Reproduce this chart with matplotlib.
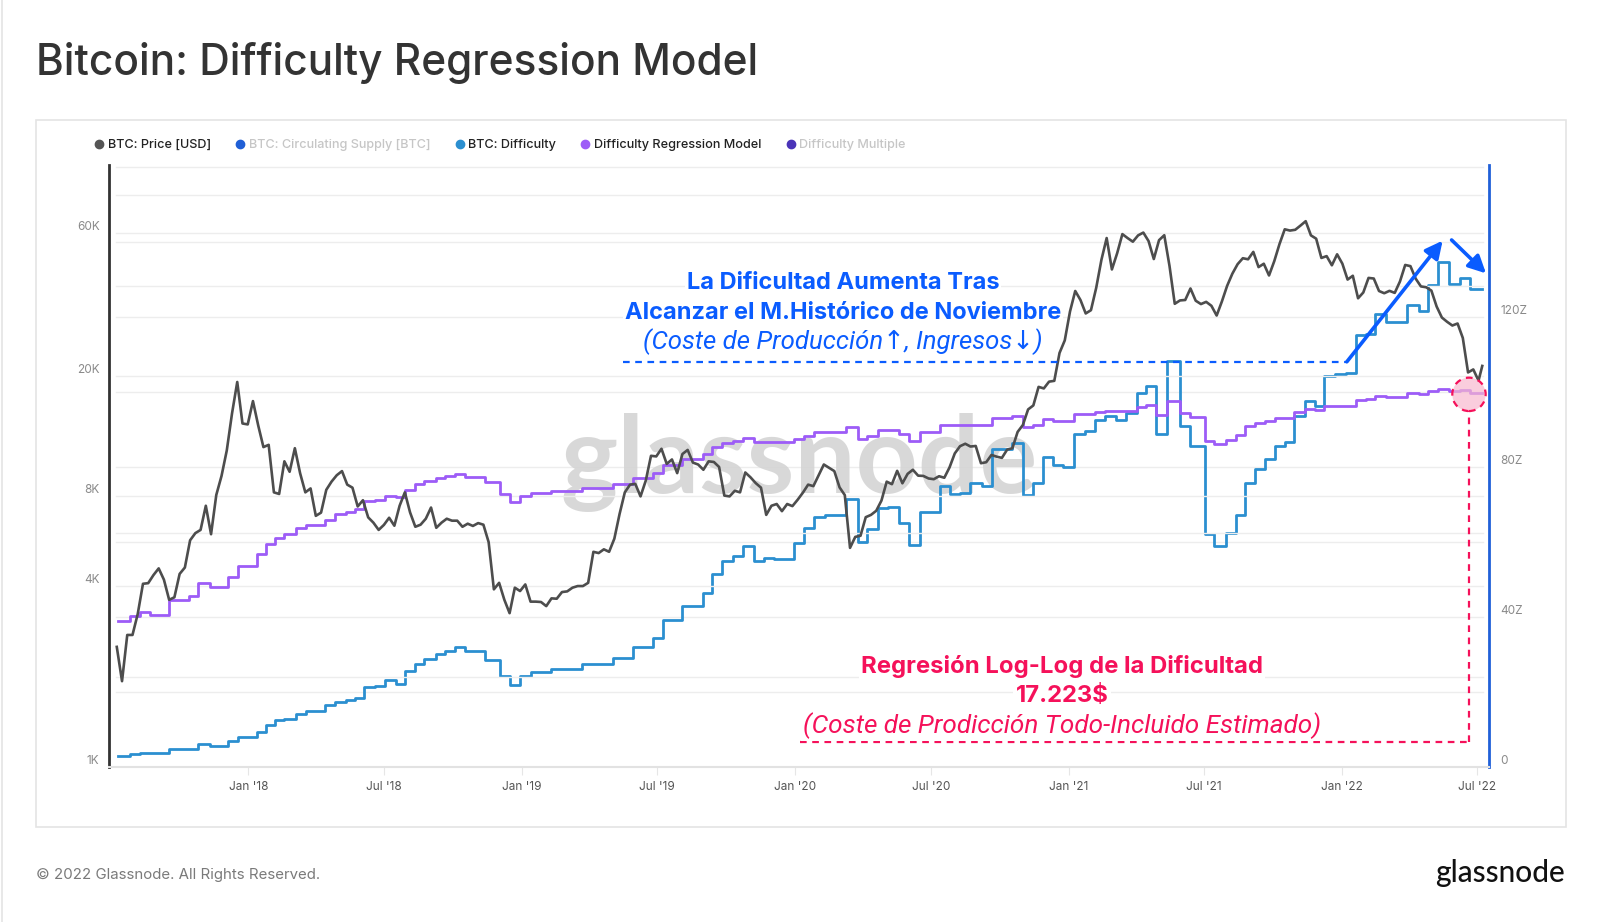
import matplotlib

matplotlib.use("Agg")
import matplotlib.pyplot as plt
import matplotlib.dates as mdates
import matplotlib.patches as mpatches
import matplotlib.ticker as mticker
from matplotlib.lines import Line2D
import pandas as pd

W, H = 1600, 922
plt.rcParams["font.family"] = ["Inter", "DejaVu Sans"]

# BTC price [USD], weekly closes (Sundays) starting 2017-07-09
price_2017 = [2510, 1930, 2750, 2750, 3230, 4070, 4090, 4350, 4580, 4200, 3600, 3670, 4390,
              4610, 5680, 6000, 6150, 7400, 5950, 8040, 9300, 11300, 15000, 19100, 13900, 13800]
price_2018 = [16500, 13700, 11600, 11800, 8200, 8100, 10400, 9600, 11500, 9500, 8200, 8450, 6850,
              7020, 8360, 8900, 9350, 9650, 8700, 8500, 7360, 7720, 6770, 6500, 6150, 6390,
              6750, 6350, 7400, 8200, 7030, 6300, 6400, 6700, 7300, 6250, 6500, 6700, 6600,
              6600, 6300, 6450, 6340, 6480, 6400, 5600, 3900, 4100, 3600, 3250, 3950, 3850]
price_2019 = [4050, 3550, 3550, 3540, 3430, 3640, 3630, 3820, 3840, 3950, 4000, 4000, 4100,
              5200, 5150, 5300, 5200, 5750, 6950, 8200, 8700, 8750, 7950, 8970, 10850, 10800,
              11450, 10200, 10550, 9500, 11000, 11350, 10300, 10150, 9750, 10400, 10350, 9960,
              8000, 7950, 8300, 8200, 9550, 9200, 8800, 8500, 6900, 7400, 7500, 7100, 7500, 7380]
price_2020 = [7750, 8180, 8700, 8600, 9350, 10150, 9900, 9650, 8520, 8030, 5360, 5830, 5880,
              6780, 6900, 7120, 7700, 8900, 8730, 9670, 8790, 9450, 9750, 9320, 9300, 9120,
              9070, 9280, 9170, 9930, 11050, 11680, 11900, 11650, 11700, 10250, 10330, 10920,
              10780, 10680, 11380, 11500, 13030, 13740, 15480, 15960, 18400, 18180, 19150,
              19270, 23860, 26270]
price_2021 = [32780, 38360, 35790, 32290, 33110, 39270, 48700, 57540, 45240, 51200, 59300, 57520,
              55950, 58730, 60000, 56220, 49000, 56620, 58800, 46450, 34770, 35680, 35800, 39100,
              35600, 34700, 35290, 34240, 31780, 35400, 39900, 43800, 47100, 49300, 48900, 51750,
              46060, 47260, 43200, 48200, 54960, 61530, 60930, 61300, 63300, 65470, 58730, 57270,
              49400, 50100, 46700, 50800]
price_2022 = [47300, 41860, 43100, 36270, 37920, 42400, 42200, 38350, 37700, 38400, 37800, 41260,
              46820, 46400, 42160, 39720, 39470, 38470, 34060, 31300, 30290, 29440, 29900, 26760,
              20550, 21030, 19300]
price_last_date = "2022-07-08"
price_last = 21600

# difficulty epochs: BTC difficulty [Z hashes] and regression model [K USD]
epoch_dates = [
    "2017-07-10", "2017-07-27", "2017-08-09", "2017-08-22", "2017-09-17", "2017-10-13",
    "2017-10-26", "2017-11-11", "2017-12-05", "2017-12-18",
    "2018-01-12", "2018-01-24", "2018-02-06", "2018-02-18", "2018-03-05", "2018-03-19",
    "2018-04-13", "2018-04-27", "2018-05-11", "2018-05-24", "2018-06-04", "2018-06-19",
    "2018-07-02", "2018-07-17", "2018-07-29", "2018-08-11", "2018-08-24", "2018-09-08",
    "2018-09-21", "2018-10-04", "2018-10-17", "2018-11-13", "2018-12-03", "2018-12-17",
    "2018-12-30",
    "2019-01-13", "2019-02-09", "2019-03-23", "2019-05-03", "2019-05-30", "2019-06-26",
    "2019-07-09", "2019-08-04", "2019-08-31", "2019-09-13", "2019-09-26", "2019-10-10",
    "2019-10-24", "2019-11-07", "2019-11-21", "2019-12-04", "2019-12-31",
    "2020-01-13", "2020-01-27", "2020-02-10", "2020-03-09", "2020-03-25", "2020-04-07",
    "2020-04-21", "2020-05-05", "2020-05-20", "2020-06-02", "2020-06-16", "2020-07-13",
    "2020-07-27", "2020-08-09", "2020-08-23", "2020-09-07", "2020-09-21", "2020-10-17",
    "2020-11-01", "2020-11-14", "2020-11-28", "2020-12-11", "2020-12-25",
    "2021-01-08", "2021-01-23", "2021-02-06", "2021-02-19", "2021-03-06", "2021-03-19",
    "2021-04-02", "2021-04-15", "2021-04-28", "2021-05-12", "2021-05-30", "2021-06-12",
    "2021-07-02", "2021-07-15", "2021-07-31", "2021-08-13", "2021-08-25", "2021-09-07",
    "2021-09-20", "2021-10-04", "2021-10-17", "2021-10-30", "2021-11-13", "2021-11-26",
    "2021-12-09", "2021-12-23",
    "2022-01-07", "2022-01-20", "2022-02-02", "2022-02-15", "2022-03-01", "2022-03-14",
    "2022-03-30", "2022-04-15", "2022-04-26", "2022-05-10", "2022-05-24", "2022-06-08",
    "2022-06-21",
]
difficulty_z = [
    2.9, 3.4, 3.6, 3.8, 4.7, 4.8, 6.1, 5.7, 6.8, 8.1,
    9.4, 11.2, 12.5, 12.9, 14.1, 15.0, 16.4, 17.2, 17.9, 18.5, 21.2, 21.7,
    23.2, 22.1, 25.7, 27.5, 28.8, 30.0, 30.8, 31.9, 30.9, 28.5, 24.2, 21.8, 24.2,
    25.2, 26.0, 27.4, 29.0, 31.9, 34.3, 39.1, 43.0, 46.5, 51.4, 55.0, 56.2,
    58.9, 54.8, 55.8, 55.5, 59.6,
    63.6, 66.7, 67.2, 71.4, 60.0, 63.4, 69.1, 69.4, 65.1, 59.3, 68.0, 75.0,
    72.7, 73.1, 75.8, 74.9, 84.8, 86.5, 72.5, 75.8, 82.6, 80.5, 80.1,
    88.8, 89.7, 92.4, 93.6, 92.4, 94.4, 99.7, 101.7, 88.8, 108.2, 90.8, 85.7,
    62.0, 58.9, 62.5, 67.2, 75.8, 79.4, 82.1, 85.6, 86.7, 93.5, 97.7, 96.3,
    104.3, 104.7,
    105.0, 115.1, 115.5, 120.7, 118.6, 118.6, 123.3, 121.7, 128.4, 134.7, 128.9, 130.5,
    127.5,
]
model_k = [
    3.05, 3.17, 3.27, 3.21, 3.59, 3.72, 4.10, 3.97, 4.30, 4.67,
    5.10, 5.54, 5.80, 5.95, 6.26, 6.40, 6.66, 6.93, 7.05, 7.20, 7.67, 7.75,
    7.97, 7.90, 8.35, 8.73, 8.95, 9.12, 9.26, 9.41, 9.21, 8.85, 8.08, 7.64, 7.97,
    8.15, 8.30, 8.50, 8.73, 9.15, 9.50, 10.1, 10.6, 11.0, 11.6, 11.95, 12.15,
    12.4, 12.05, 12.05, 12.05, 12.35,
    12.6, 13.07, 13.07, 13.5, 12.35, 12.6, 13.2, 13.2, 12.85, 12.2, 13.07, 13.7,
    13.7, 13.7, 13.75, 13.75, 14.5, 14.7, 13.5, 13.76, 14.4, 14.2, 14.2,
    14.9, 15.0, 15.2, 15.3, 15.25, 15.3, 15.8, 16.0, 14.8, 16.5, 15.05, 14.57,
    12.2, 11.9, 12.25, 12.7, 13.6, 13.95, 14.2, 14.5, 14.55, 15.15, 15.55, 15.4,
    15.95, 15.95,
    15.95, 16.7, 16.75, 17.2, 17.0, 17.0, 17.5, 17.4, 17.76, 18.1, 17.76, 17.9,
    17.6,
]
data_end = "2022-07-08"

price_ticks = [1000, 4000, 8000, 20000, 60000]
price_labels = ["1K", "4K", "8K", "20K", "60K"]
price_grid = [2000, 4000, 6000, 8000, 20000, 40000, 60000, 80000]
diff_ticks = [0, 40, 80, 120]
diff_labels = ["0", "40Z", "80Z", "120Z"]
diff_grid = [20, 40, 60, 80, 100, 120, 140, 160]
x_ticks = ["2018-01-01", "2018-07-01", "2019-01-01", "2019-07-01", "2020-01-01",
           "2020-07-01", "2021-01-01", "2021-07-01", "2022-01-01", "2022-07-01"]
x_labels = ["Jan '18", "Jul '18", "Jan '19", "Jul '19", "Jan '20",
            "Jul '20", "Jan '21", "Jul '21", "Jan '22", "Jul '22"]

legend_labels = ["BTC: Price [USD]", "BTC: Circulating Supply [BTC]", "BTC: Difficulty",
                 "Difficulty Regression Model", "Difficulty Multiple"]
legend_colors = ["#555555", "#1f5fd6", "#2b8fd0", "#9d5cf7", "#4a34b8"]
legend_active = [True, False, True, True, False]

C_PRICE = "#4d4d4d"
C_DIFF = "#2b8fd0"
C_MODEL = "#9d5cf7"
BLUE = "#0a5cff"
RED = "#f5115a"
ITALIC = ["Roboto", "DejaVu Sans"]


def fx(x):
    return x / W


def fy(y):
    return 1 - y / H


price = price_2017 + price_2018 + price_2019 + price_2020 + price_2021 + price_2022
price_dates = list(pd.date_range("2017-07-09", periods=len(price), freq="7D"))
price_dates.append(pd.Timestamp(price_last_date))
price = price + [price_last]

ep = [pd.Timestamp(d) for d in epoch_dates] + [pd.Timestamp(data_end)]
diff_s = difficulty_z + [difficulty_z[-1]]
model_s = [v * 1000 for v in model_k] + [model_k[-1] * 1000]

fig = plt.figure(figsize=(W / 100, H / 100), dpi=100)
fig.patch.set_facecolor("white")

# outer chart box
fig.add_artist(mpatches.Rectangle((fx(35.7), fy(826.5)), fx(1530.3), (826.5 - 120.4) / H,
                                  transform=fig.transFigure, fill=False,
                                  ec="#e4e4e4", lw=1.2))
fig.add_artist(Line2D([fx(1.5), fx(1.5)], [0, 1], transform=fig.transFigure,
                      color="#e4e4e4", lw=1.2))

l, r, t, b = 109.3, 1489, 165, 767
ax = fig.add_axes([fx(l), fy(b), (r - l) / W, (b - t) / H])
ax2 = ax.twinx()
ax.set_zorder(2)
ax.patch.set_visible(False)

ax.set_yscale("log")
ax.set_ylim(1000, 100700)
ax2.set_ylim(0, 160.5)
ax.set_xlim(pd.Timestamp("2017-06-29"), pd.Timestamp("2022-07-17"))

for g in price_grid:
    ax.axhline(g, xmin=0.005, xmax=0.996, color="#ededed", lw=1, zorder=0)
for g in diff_grid:
    ax2.axhline(g, xmin=0.005, xmax=0.996, color="#ededed", lw=1, zorder=0)

ax2.text(0.5, 0.505, "glassnode", transform=ax2.transAxes, ha="center", va="center",
         fontsize=78, color="#d2d2d2", alpha=0.85, family=["Lato", "DejaVu Sans"],
         weight="bold", zorder=1)

ax2.plot(ep, diff_s, drawstyle="steps-post", color=C_DIFF, lw=2, zorder=3)
ax.plot(ep, model_s, drawstyle="steps-post", color=C_MODEL, lw=2, zorder=3)
ax.plot(price_dates, price, color=C_PRICE, lw=1.9, zorder=4)

# axes styling
ax.yaxis.set_minor_locator(mticker.NullLocator())
ax.set_yticks(price_ticks, price_labels, va="bottom")
ax.tick_params(axis="y", length=0, pad=7, labelsize=8.5, labelcolor="#8a8a8a")
ax2.set_yticks(diff_ticks, diff_labels, va="bottom")
ax2.tick_params(axis="y", length=0, pad=8, labelsize=8.5, labelcolor="#8a8a8a")
ax.set_xticks([pd.Timestamp(d) for d in x_ticks], x_labels)
ax.tick_params(axis="x", length=6, color="#e6e6e6", labelsize=8.5, labelcolor="#555555", pad=4)
for s in ("top", "right"):
    ax.spines[s].set_visible(False)
ax.spines["left"].set_color("#333333")
ax.spines["left"].set_linewidth(2)
ax.spines["bottom"].set_color("#e2e2e2")
ax.spines["bottom"].set_linewidth(1.5)
for s in ("top", "left", "bottom"):
    ax2.spines[s].set_visible(False)
ax2.spines["right"].set_color("#2060d8")
ax2.spines["right"].set_linewidth(2)

# blue annotation: difficulty rising after November ATH
ax.plot([pd.Timestamp("2019-05-17"), pd.Timestamp("2022-01-08")], [22300, 22300],
        ls=(0, (3, 2.5)), color=BLUE, lw=1.6, zorder=5)
ax.annotate("", xy=(pd.Timestamp("2022-05-16"), 56400), xytext=(pd.Timestamp("2022-01-08"), 22300),
            arrowprops=dict(arrowstyle="-|>", color=BLUE, lw=2.6, mutation_scale=26,
                            shrinkA=0, shrinkB=0), zorder=6)
ax.annotate("", xy=(pd.Timestamp("2022-07-13"), 43900), xytext=(pd.Timestamp("2022-05-28"), 56700),
            arrowprops=dict(arrowstyle="-|>", color=BLUE, lw=2.6, mutation_scale=26,
                            shrinkA=0, shrinkB=0), zorder=6)

# red annotation: regression estimate
ax.plot([pd.Timestamp("2020-01-08"), pd.Timestamp("2022-06-20")], [1214, 1214],
        ls=(0, (3, 2.5)), color=RED, lw=1.6, zorder=5)
ax.plot([pd.Timestamp("2022-06-20"), pd.Timestamp("2022-06-20")], [1214, 15300],
        ls=(0, (3, 2.5)), color=RED, lw=1.6, zorder=5)
ax.add_patch(mpatches.Ellipse((0.9855, 0.619), 33.4 / (r - l), 33.4 / (b - t),
                              transform=ax.transAxes, fc="#f8b8cf", alpha=0.7, ec="none", zorder=5))
ax.add_patch(mpatches.Ellipse((0.9855, 0.619), 33.4 / (r - l), 33.4 / (b - t),
                              transform=ax.transAxes, fill=False, ec=RED, lw=1.6,
                              ls=(0, (3, 2.5)), zorder=6))

box = dict(fc="white", ec="none", pad=1.5)
fig.text(fx(843), fy(283.3), "La Dificultad Aumenta Tras", ha="center", va="center",
         fontsize=17, weight="bold", color=BLUE, bbox=box)
fig.text(fx(843), fy(313.3), "Alcanzar el M.Histórico de Noviembre", ha="center", va="center",
         fontsize=17, weight="bold", color=BLUE, bbox=box)
fig.text(fx(843), fy(341.7), "(Coste de Producción↑, Ingresos↓)", ha="center", va="center",
         fontsize=18.5, style="italic", color=BLUE, family=ITALIC, bbox=box)
fig.text(fx(1062), fy(666), "Regresión Log-Log de la Dificultad", ha="center", va="center",
         fontsize=17.2, weight="bold", color=RED, bbox=box)
fig.text(fx(1062), fy(696), "17.223$", ha="center", va="center",
         fontsize=17.2, weight="bold", color=RED, bbox=box)
fig.text(fx(1062), fy(726), "(Coste de Prodicción Todo-Incluido Estimado)", ha="center",
         va="center", fontsize=18.8, style="italic", color=RED, family=ITALIC, bbox=box)

# title, legend, footer
fig.text(fx(35.7), fy(63), "Bitcoin: Difficulty Regression Model", ha="left", va="center",
         fontsize=30.5, color="#333333", weight="medium")

handles = [Line2D([], [], marker="o", ls="none", color=c, markersize=6) for c in legend_colors]
leg = fig.legend(handles, legend_labels, loc="center left", bbox_to_anchor=(fx(94), fy(145)),
                 ncol=5, frameon=False, fontsize=9.1, handlelength=0.8, handletextpad=0.3,
                 columnspacing=1.9, borderpad=0, borderaxespad=0)
for txt, active in zip(leg.get_texts(), legend_active):
    txt.set_color("#222222" if active else "#c6c6c6")
    txt.set_fontweight("medium")

fig.text(fx(35.7), fy(874.5), "© 2022 Glassnode. All Rights Reserved.", ha="left", va="center",
         fontsize=10.8, color="#7a7a7a")
fig.text(fx(1565), fy(873), "glassnode", ha="right", va="center", fontsize=21.5,
         color="#111111", family=["Lato", "DejaVu Sans"], weight="medium")

fig.savefig("out.png", dpi=100)
